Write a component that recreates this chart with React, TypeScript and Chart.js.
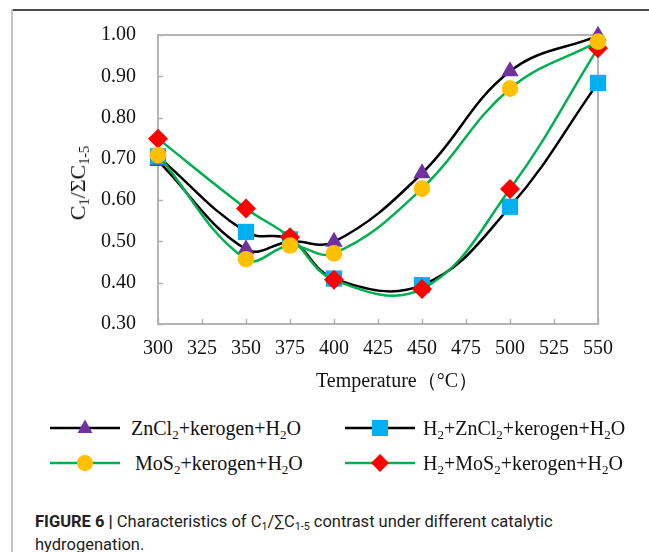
import React, { useEffect, useRef } from "react";
import { Chart, registerables } from "chart.js";

Chart.register(...registerables);

// ---- data ----
const temperatures = [300, 350, 375, 400, 450, 500, 550];
const znCl2Kerogen = [0.695, 0.481, 0.5, 0.499, 0.665, 0.912, 0.998];
const h2ZnCl2Kerogen = [0.706, 0.523, 0.505, 0.41, 0.394, 0.584, 0.884];
const moS2Kerogen = [0.709, 0.457, 0.49, 0.471, 0.628, 0.87, 0.984];
const h2MoS2Kerogen = [0.749, 0.58, 0.51, 0.407, 0.385, 0.627, 0.968];

const xMin = 300;
const xMax = 550;
const xStep = 25;
const yMin = 0.3;
const yMax = 1.0;
const yStep = 0.1;

const PURPLE = "#7030A0";
const BLUE = "#00B0F0";
const YELLOW = "#FFC000";
const RED = "#FF0000";
const GREEN = "#00B050";
const BLACK = "#000000";
const SERIF = "'Liberation Serif', 'Times New Roman', 'DejaVu Serif', serif";

const toPoints = (vals: number[]) => temperatures.map((t, i) => ({ x: t, y: vals[i] }));

const framePlugin = {
  id: "frameAndInnerTicks",
  beforeDatasetsDraw(chart: any) {
    const { ctx, chartArea, scales } = chart;
    const { left, right, top, bottom } = chartArea;
    ctx.save();
    ctx.strokeStyle = "#B4B4B4";
    ctx.lineWidth = 2;
    ctx.strokeRect(left, top, right - left, bottom - top);
    ctx.lineWidth = 1.5;
    ctx.beginPath();
    scales.x.ticks.forEach((t: any) => {
      const px = Math.round(scales.x.getPixelForValue(t.value)) + 0.5;
      ctx.moveTo(px, bottom);
      ctx.lineTo(px, bottom - 5);
    });
    scales.y.ticks.forEach((t: any) => {
      const py = Math.round(scales.y.getPixelForValue(t.value)) + 0.5;
      ctx.moveTo(left, py);
      ctx.lineTo(left + 5, py);
    });
    ctx.stroke();
    ctx.restore();
  },
};

function LegendMarker({ kind, color, line }: { kind: string; color: string; line: string }) {
  const w = 70;
  const h = 22;
  const cx = w / 2;
  const cy = h / 2;
  let shape: any = null;
  if (kind === "triangle") {
    shape = <polygon points={`${cx},${cy - 8.5} ${cx - 7.5},${cy + 5} ${cx + 7.5},${cy + 5}`} fill={color} />;
  } else if (kind === "rect") {
    shape = <rect x={cx - 8} y={cy - 8} width={16} height={16} fill={color} />;
  } else if (kind === "circle") {
    shape = <circle cx={cx} cy={cy} r={8} fill={color} />;
  } else {
    shape = <polygon points={`${cx},${cy - 9} ${cx + 9},${cy} ${cx},${cy + 9} ${cx - 9},${cy}`} fill={color} />;
  }
  return (
    <svg width={w} height={h} style={{ display: "block" }}>
      <line x1={0} y1={cy} x2={w} y2={cy} stroke={line} strokeWidth={2.5} />
      {shape}
    </svg>
  );
}

export default function App() {
  const canvasRef = useRef<HTMLCanvasElement | null>(null);

  useEffect(() => {
    const canvas = canvasRef.current;
    if (!canvas) return;
    const common = {
      borderWidth: 2.5,
      tension: 0.4,
      fill: false,
      clip: false as any,
      pointBorderWidth: 0,
      pointHoverRadius: 0,
    };
    const chart = new Chart(canvas, {
      type: "line",
      data: {
        datasets: [
          {
            ...common,
            label: "MoS2+kerogen+H2O",
            data: toPoints(moS2Kerogen),
            borderColor: GREEN,
            backgroundColor: YELLOW,
            pointBackgroundColor: YELLOW,
            pointStyle: "circle",
            pointRadius: 8.3,
          },
          {
            ...common,
            label: "H2+MoS2+kerogen+H2O",
            data: toPoints(h2MoS2Kerogen),
            borderColor: GREEN,
            backgroundColor: RED,
            pointBackgroundColor: RED,
            pointStyle: "rectRot",
            pointRadius: 10,
          },
          {
            ...common,
            label: "H2+ZnCl2+kerogen+H2O",
            data: toPoints(h2ZnCl2Kerogen),
            borderColor: BLACK,
            backgroundColor: BLUE,
            pointBackgroundColor: BLUE,
            pointStyle: "rect",
            pointRadius: 11.5,
          },
          {
            ...common,
            label: "ZnCl2+kerogen+H2O",
            data: toPoints(znCl2Kerogen),
            borderColor: BLACK,
            backgroundColor: PURPLE,
            pointBackgroundColor: PURPLE,
            pointStyle: "triangle",
            pointRadius: 10,
          },
        ],
      },
      options: {
        responsive: false,
        animation: false,
        devicePixelRatio: 1,
        layout: { padding: { left: 0, top: 35, right: 51, bottom: 0 } },
        plugins: { legend: { display: false }, tooltip: { enabled: false } },
        events: [],
        scales: {
          x: {
            type: "linear",
            min: xMin,
            max: xMax,
            grid: { display: false, drawTicks: false },
            border: { display: false },
            ticks: {
              stepSize: xStep,
              padding: 13,
              color: "#111",
              font: { family: SERIF, size: 20 },
              maxRotation: 0,
            },
            afterFit: (s: any) => {
              s.height = 76;
            },
          },
          y: {
            type: "linear",
            min: yMin,
            max: yMax,
            grid: { display: false, drawTicks: false },
            border: { display: false },
            ticks: {
              stepSize: yStep,
              padding: 22,
              color: "#111",
              font: { family: SERIF, size: 20 },
              callback: (v: any) => Number(v).toFixed(2),
            },
            afterFit: (s: any) => {
              s.width = 158;
            },
          },
        },
      },
      plugins: [framePlugin],
    });
    return () => chart.destroy();
  }, []);

  const legendText: React.CSSProperties = {
    position: "absolute",
    fontFamily: SERIF,
    fontSize: 20,
    color: "#111",
    whiteSpace: "nowrap",
    lineHeight: "24px",
  };
  const sub: React.CSSProperties = { fontSize: "65%", verticalAlign: "-0.3em", lineHeight: 0 };

  return (
    <div
      style={{
        position: "absolute",
        left: 0,
        top: 0,
        width: 649,
        height: 552,
        background: "#fff",
        overflow: "hidden",
      }}
    >
      {/* frame lines of the card */}
      <div style={{ position: "absolute", left: 11, top: 9, width: 638, height: 1.5, background: "#4a4a4a" }} />
      <div style={{ position: "absolute", left: 11, top: 9, width: 2, height: 543, background: "#c4c4c4" }} />

      <canvas
        ref={canvasRef}
        width={649}
        height={400}
        style={{ position: "absolute", left: 0, top: 0, width: 649, height: 400 }}
      />

      {/* y-axis title */}
      <div
        style={{
          position: "absolute",
          left: 78,
          top: 183,
          transform: "translate(-50%, -50%) rotate(-90deg)",
          fontFamily: SERIF,
          fontSize: 22,
          color: "#111",
          whiteSpace: "nowrap",
          lineHeight: "26px",
        }}
      >
        C<span style={sub}>1</span>/ΣC<span style={sub}>1-5</span>
      </div>

      {/* x-axis title */}
      <div
        style={{
          position: "absolute",
          left: 397,
          top: 380,
          transform: "translate(-50%, -50%)",
          fontFamily: SERIF,
          fontSize: 20,
          color: "#111",
          whiteSpace: "nowrap",
          lineHeight: "24px",
        }}
      >
        Temperature（°C）
      </div>

      {/* legend */}
      <div style={{ position: "absolute", left: 50, top: 417 }}>
        <LegendMarker kind="triangle" color={PURPLE} line={BLACK} />
      </div>
      <div style={{ ...legendText, left: 131, top: 416 }}>
        ZnCl<span style={sub}>2</span>+kerogen+H<span style={sub}>2</span>O
      </div>
      <div style={{ position: "absolute", left: 345, top: 417 }}>
        <LegendMarker kind="rect" color={BLUE} line={BLACK} />
      </div>
      <div style={{ ...legendText, left: 423, top: 416 }}>
        H<span style={sub}>2</span>+ZnCl<span style={sub}>2</span>+kerogen+H<span style={sub}>2</span>O
      </div>
      <div style={{ position: "absolute", left: 50, top: 452 }}>
        <LegendMarker kind="circle" color={YELLOW} line={GREEN} />
      </div>
      <div style={{ ...legendText, left: 135, top: 451 }}>
        MoS<span style={sub}>2</span>+kerogen+H<span style={sub}>2</span>O
      </div>
      <div style={{ position: "absolute", left: 345, top: 452 }}>
        <LegendMarker kind="diamond" color={RED} line={GREEN} />
      </div>
      <div style={{ ...legendText, left: 423, top: 451 }}>
        H<span style={sub}>2</span>+MoS<span style={sub}>2</span>+kerogen+H<span style={sub}>2</span>O
      </div>

      {/* caption */}
      <div
        style={{
          position: "absolute",
          left: 35,
          top: 511,
          fontFamily: "Roboto, 'Liberation Sans', sans-serif",
          fontSize: 16.5,
          letterSpacing: "0px",
          lineHeight: "22.5px",
          color: "#222",
          whiteSpace: "nowrap",
        }}
      >
        <b>FIGURE 6</b> <b style={{ fontWeight: 900 }}>|</b> Characteristics of C<span style={sub}>1</span>/∑C
        <span style={sub}>1-5</span> contrast under different catalytic
        <br />
        hydrogenation.
      </div>
    </div>
  );
}
